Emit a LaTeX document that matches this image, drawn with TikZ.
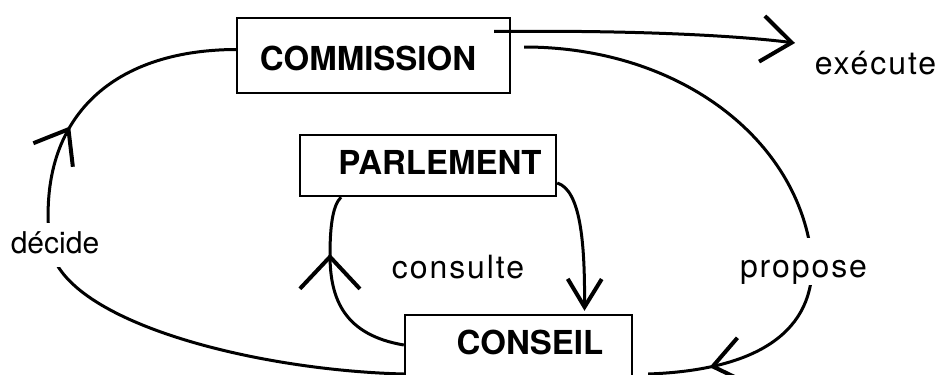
\documentclass[tikz,border=0pt]{standalone}
\usepackage{fontspec}
\setmainfont{TeX Gyre Heros}
\usepackage{tikz}
\usetikzlibrary{arrows.meta,decorations.markings}

\newcommand\boxfont{\fontsize{16.5}{20}\selectfont\bfseries}
\newcommand\lblfont{\fontsize{16}{20}\selectfont\addfontfeature{LetterSpace=6}}

\tikzset{
  >={Straight Barb[length=15pt,width=23pt,line width=2pt]},
  wide/.tip={Straight Barb[length=16pt,width=30pt,line width=2pt]},
  slim/.tip={Straight Barb[length=14pt,width=17pt,line width=2pt]},
  box/.style={draw,line width=1.2pt,fill=white,font=\boxfont,anchor=base,inner ysep=2pt},
  lbl/.style={fill=white,inner sep=1.5pt,font=\lblfont,anchor=base},
  link/.style={line width=1.5pt},
  midarrow/.style 2 args={postaction={decorate},
    decoration={markings,mark=at position #1 with {\arrow{#2}}}}
}

\begin{document}
\begin{tikzpicture}[x=0.5pt,y=-0.5pt]
\useasboundingbox (0,0) rectangle (943,375);

\node (com) at (373.5,70)[box,minimum width=136.5pt,text height=24pt,text depth=9.5pt]{COMMISSION\hspace*{5.5pt}};

\node (par) at (428,174)[box,minimum width=128pt,text height=17.5pt,text depth=9pt]{\hspace*{12pt}PARLEMENT};

\node (con) at (518.5,354)[box,minimum width=113.5pt,text height=17.5pt,text depth=18.5pt]{\hspace*{11.5pt}CONSEIL};

% the free end of the arrow to the right
\coordinate (out) at (795,43);

\draw[link,->] ([xshift=-8.5pt,yshift=12pt]com.east) .. controls (640,30) and (740,36) .. (out);

% big loop
\draw[link,midarrow={0.9}{>}] ([xshift=6.5pt,yshift=4.25pt]com.east) .. controls (680,47) and (800,140) .. (812,260)
  .. controls (815,330) and (760,370) .. ([xshift=7.5pt,yshift=-9.5pt]con.east);
\draw[link,midarrow={0.73}{>}] ([yshift=-9.5pt]con.west) .. controls (250,370) and (60,320) .. (50,245)
  .. controls (35,120) and (110,50) .. ([yshift=3pt]com.west);

% parlement / conseil
\draw[link,-slim] ([yshift=-8.75pt]par.east) .. controls (580,190) and (585,240) .. ([xshift=33pt,yshift=1.5pt]con.north);
\draw[link,midarrow={0.69}{wide}] ([yshift=5pt]con.west) .. controls (345,335) and (330,300) .. (330,255)
  .. controls (330,225) and (333,205) .. ([xshift=-43.5pt]par.south);

\node (exe) at (875.5,75)[lbl]{exécute};
\node (pro) at (803.5,277)[lbl,text height=18pt,text depth=2.5pt]{propose};
\node (dec) at (55,253)[lbl,font=\fontsize{15}{18}\selectfont,
  text height=13.5pt,text depth=5.5pt]{décide};
\node (cst) at (458,278)[lbl]{consulte};

\end{tikzpicture}
\end{document}
